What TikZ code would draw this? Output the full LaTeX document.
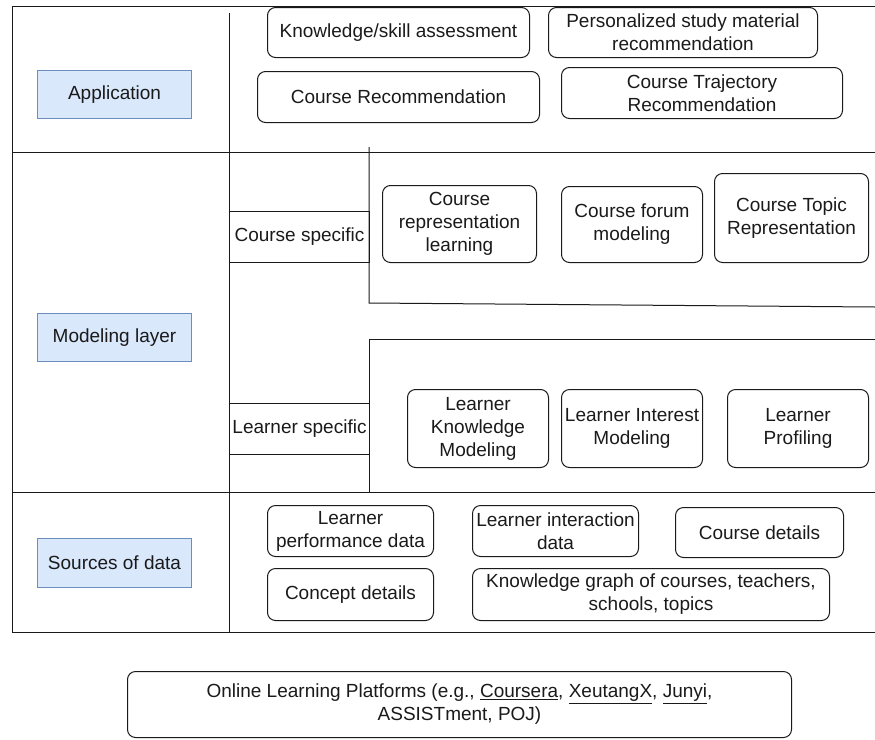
\documentclass[tikz,border=0pt]{standalone}
\usepackage{fontspec}
\setmainfont{Liberation Sans}
\definecolor{layerfill}{HTML}{DAE8FC}
\definecolor{layerdraw}{HTML}{6C8EBF}
\definecolor{ink}{HTML}{1A1A1A}
\begin{document}
\begin{tikzpicture}[x=1pt,y=-1pt,
  every node/.style={font=\fontsize{19}{23}\selectfont, text=ink, inner sep=0pt, align=center, anchor=north west},
  rbox/.style={draw=ink, line width=1pt, rounded corners=8pt},
  layerbox/.style={draw=layerdraw, fill=layerfill, line width=1pt, minimum width=154pt},
  sidebox/.style={draw=ink, line width=1pt, minimum width=140pt, minimum height=51pt},
  frame/.style={draw=ink, line width=1pt}]
\useasboundingbox (0,0) rectangle (875,739);

% frame of the three layers
\draw[frame] (875,6) -- (12,6) -- (12,632) -- (875,632);
\draw[frame] (12,152) -- (875,152);
\draw[frame] (12,492) -- (875,492);
\draw[frame] (229,13) -- (229,632);

% layer labels
\node[layerbox, minimum height=48pt] (app) at (37,70) {Application};
\node[layerbox, minimum height=48pt] (mod) at (37,313) {Modeling layer};
\node[layerbox, minimum height=49pt] (src) at (37,538) {Sources of data};

% application layer
\node[rbox, minimum width=262pt, minimum height=50pt] (ka) at (267,7) {Knowledge/skill assessment};
\node[rbox, minimum width=269pt, minimum height=50pt] (psm) at (548,7) {Personalized study material\\recommendation};
\node[rbox, minimum width=282pt, minimum height=51pt] (cr) at (257,71) {Course Recommendation};
\node[rbox, minimum width=281pt, minimum height=51pt] (ctr) at (561,67) {Course Trajectory\\Recommendation};

% modeling layer: course specific
\node[sidebox] (cs) at (229,211) {Course specific};
\coordinate (csTop) at (369,147);
\coordinate (csCorner) at (369,303);
\coordinate (csEnd) at (875,307);
\draw[frame] (csTop) -- (csCorner) -- (csEnd);
\node[rbox, minimum width=154pt, minimum height=77pt] (crl) at (382,185) {Course\\representation\\learning};
\node[rbox, minimum width=141pt, minimum height=76pt] (cfm) at (561,186) {Course forum\\modeling};
\node[rbox, minimum width=154pt, minimum height=89pt] (ctp) at (714,173) {Course Topic\\Representation};

% modeling layer: learner specific
\node[sidebox] (ls) at (229,403) {Learner specific};
\coordinate (lsEnd) at (875,339);
\coordinate (lsCorner) at (369,339);
\coordinate (lsBottom) at (369,492);
\draw[frame] (lsEnd) -- (lsCorner) -- (lsBottom);
\node[rbox, minimum width=141pt, minimum height=78pt] (lkm) at (407,389) {Learner\\Knowledge\\Modeling};
\node[rbox, minimum width=141pt, minimum height=78pt] (lim) at (561,389) {Learner Interest\\Modeling};
\node[rbox, minimum width=141pt, minimum height=78pt] (lp) at (727,389) {Learner\\Profiling};

% sources of data
\node[rbox, minimum width=166pt, minimum height=51pt] (lpd) at (267,505) {Learner\\performance data};
\node[rbox, minimum width=166pt, minimum height=51pt] (lid) at (472,505) {Learner interaction\\data};
\node[rbox, minimum width=168pt, minimum height=50pt] (cd) at (675,507) {Course details};
\node[rbox, minimum width=166pt, minimum height=52pt] (cpd) at (267,568) {Concept details};
\node[rbox, minimum width=357pt, minimum height=52pt] (kg) at (472,568) {Knowledge graph of courses, teachers,\\schools, topics};

% platforms
\node[rbox, minimum width=664pt, minimum height=66pt] (olp) at (127,671) {Online Learning Platforms (e.g., \underline{Coursera}, \underline{XeutangX}, \underline{Junyi},\\ASSISTment, POJ)};
\end{tikzpicture}
\end{document}
